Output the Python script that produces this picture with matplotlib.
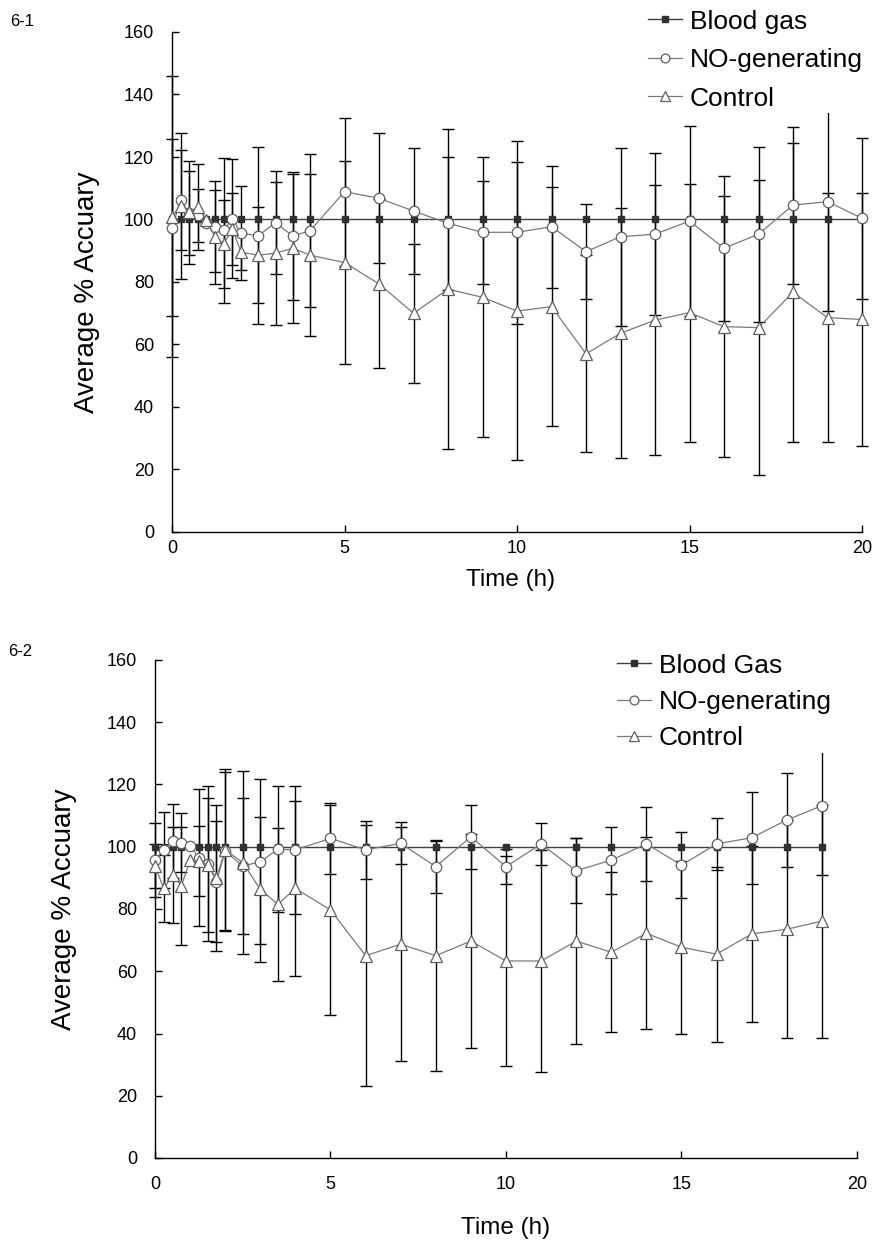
import numpy as np
import matplotlib
matplotlib.use('Agg')
import matplotlib.pyplot as plt

plt.rcParams['font.family'] = ['Liberation Sans', 'DejaVu Sans']

# ---- panel 6-1 ----
time_1 = [0, 0.25, 0.5, 0.75, 1, 1.25, 1.5, 1.75, 2, 2.5, 3, 3.5, 4,
          5, 6, 7, 8, 9, 10, 11, 12, 13, 14, 15, 16, 17, 18, 19, 20]
blood_1 = [100, 100, 100, 100, 100, 100, 100, 100, 100, 100, 100, 100, 100,
           100, 100, 100, 100, 100, 100, 100, 100, 100, 100, 100, 100, 100, 100, 100, 100]
no_1 = [97.4, 106.2, 102.0, 101.4, 99.0, 97.7, 96.6, 100.3, 95.6, 94.8, 99.0, 94.7, 96.4,
        108.9, 106.8, 102.7, 98.8, 95.9, 95.9, 97.7, 89.7, 94.5, 95.3, 99.5, 90.8, 95.3, 104.6, 105.7, 100.4]
no_sd_1 = [28.4, 16.0, 13.5, 8.5, np.nan, 14.6, 23.2, 19.1, 15.0, 28.3, 16.5, 20.4, 24.4,
           23.7, 20.8, 20.3, 21.3, 16.5, 29.2, 19.5, 15.2, 28.5, 25.9, 30.5, 23.2, 28.0, 25.1, 34.9, 25.8]
ctrl_1 = [100.9, 104.3, 102.3, 103.9, 99.8, 94.3, 92.2, 97.0, 89.5, 88.6, 89.2, 90.8, 88.6,
          86.2, 79.4, 70.0, 77.7, 75.1, 70.7, 72.1, 57.0, 63.6, 67.8, 70.2, 65.7, 65.4, 76.7, 68.6, 68.0]
ctrl_sd_1 = [45.0, 23.3, 16.5, 13.8, np.nan, 15.0, 14.0, 11.6, 5.7, 15.3, 22.9, 23.8, 25.9,
             32.4, 27.0, 22.2, 51.2, 44.8, 47.7, 38.2, 31.5, 40.0, 43.2, 41.3, 41.8, 47.2, 47.8, 39.8, 40.4]

# ---- panel 6-2 ----
time_2 = [0, 0.25, 0.5, 0.75, 1, 1.25, 1.5, 1.75, 2, 2.5, 3, 3.5, 4,
          5, 6, 7, 8, 9, 10, 11, 12, 13, 14, 15, 16, 17, 18, 19]
blood_2 = [100, 100, 100, 100, 100, 100, 100, 100, 100, 100, 100, 100, 100,
           100, 100, 100, 100, 100, 100, 100, 100, 100, 100, 100, 100, 100, 100, 100]
no_2 = [95.7, 99.0, 101.8, 101.3, 100.3, 96.5, 94.6, 88.8, 98.6, 93.8, 95.2, 99.2, 99.0,
        102.7, 99.0, 101.1, 93.6, 103.2, 93.6, 100.9, 92.3, 95.7, 100.9, 94.1, 100.9, 102.9, 108.6, 113.2]
no_sd_2 = [12.0, 12.3, 11.8, 9.4, np.nan, 21.9, 24.9, 19.5, 25.5, 21.8, 26.6, 20.3, 20.5,
           11.4, 9.4, 6.7, 8.6, 10.2, 5.6, 6.8, 10.4, 10.8, 11.8, 10.7, 8.4, 14.8, 15.0, 22.3]
ctrl_2 = [93.8, 86.6, 90.9, 87.4, 95.7, 95.4, 94.1, 89.9, 99.0, 94.9, 86.3, 81.5, 86.6,
          79.7, 65.0, 68.7, 65.0, 69.7, 63.3, 63.3, 69.7, 66.1, 72.2, 67.7, 65.5, 72.0, 73.5, 76.1]
ctrl_sd_2 = [7.2, 10.7, 15.3, 19.0, np.nan, 11.3, 21.6, 23.5, 26.0, 29.4, 23.4, 24.6, 28.2,
             33.7, 42.0, 37.5, 37.0, 34.3, 33.6, 35.8, 33.2, 25.7, 30.8, 27.7, 28.1, 28.2, 35.0, 37.4]

W, H = 879.0, 1245.0


def draw_panel(ax, t, bg, no, no_sd, ctrl, ctrl_sd, bg_label):
    t = np.array(t)
    for y, sd in ((np.array(no), np.array(no_sd)), (np.array(ctrl), np.array(ctrl_sd))):
        ok = np.isfinite(sd)
        ax.errorbar(t[ok], y[ok], yerr=sd[ok], fmt='none', ecolor='black',
                    elinewidth=1.0, capsize=4.5, capthick=1.0, zorder=2, clip_on=False)
    ax.plot(t, bg, color='#404040', lw=1.0, marker='s', ms=4.5,
            mfc='#303030', mec='#303030', label=bg_label, zorder=3, clip_on=False)
    ax.plot(t, no, color='#7a7a7a', lw=0.9, marker='o', ms=7.5,
            mfc='white', mec='#606060', mew=0.9, label='NO-generating', zorder=4, clip_on=False)
    ax.plot(t, ctrl, color='#7a7a7a', lw=0.9, marker='^', ms=9,
            mfc='white', mec='#606060', mew=0.9, label='Control', zorder=4, clip_on=False)

    ax.set_xlim(0, 20)
    ax.set_ylim(0, 160)
    ax.set_xticks([0, 5, 10, 15, 20])
    ax.set_yticks(np.arange(0, 161, 20))
    for s in ('top', 'right'):
        ax.spines[s].set_visible(False)
    for s in ('left', 'bottom'):
        ax.spines[s].set_linewidth(1.0)
    ax.tick_params(direction='in', length=5, width=1.0, labelsize=13)
    ax.tick_params(axis='y', pad=13)
    ax.set_ylabel('Average % Accuary', fontsize=20)
    ax.set_xlabel('Time (h)', fontsize=17.5)


fig = plt.figure(figsize=(W / 100, H / 100), dpi=100)

ax1 = fig.add_axes([172 / W, 1 - 532 / H, 690 / W, 500 / H])
draw_panel(ax1, time_1, blood_1, no_1, no_sd_1, ctrl_1, ctrl_sd_1, 'Blood gas')
ax1.tick_params(axis='x', pad=6)
ax1.yaxis.set_label_coords(-0.105, 0.48)
ax1.xaxis.set_label_coords(0.49, -0.074)
ax1.legend(loc='upper left', bbox_to_anchor=(645 / W, 1 - 7 / H), bbox_transform=fig.transFigure,
           fontsize=19, frameon=True, framealpha=1, facecolor='white', edgecolor='none',
           fancybox=False, handlelength=1.3, handletextpad=0.3, labelspacing=0.55,
           borderpad=0.1, borderaxespad=0, markerscale=0.85)

ax2 = fig.add_axes([155 / W, 1 - 1158 / H, 702 / W, 498 / H])
draw_panel(ax2, time_2, blood_2, no_2, no_sd_2, ctrl_2, ctrl_sd_2, 'Blood Gas')
ax2.tick_params(axis='x', pad=13)
ax2.yaxis.set_label_coords(-0.111, 0.5)
ax2.xaxis.set_label_coords(0.5, -0.118)
ax2.legend(loc='upper left', bbox_to_anchor=(614 / W, 1 - 651 / H), bbox_transform=fig.transFigure,
           fontsize=19, frameon=True, framealpha=1, facecolor='white', edgecolor='none',
           fancybox=False, handlelength=1.3, handletextpad=0.3, labelspacing=0.47,
           borderpad=0.1, borderaxespad=0, markerscale=0.85)

fig.text(10 / W, 1 - 22 / H, '6-1', fontsize=12, va='center', ha='left')
fig.text(8 / W, 1 - 652 / H, '6-2', fontsize=12, va='center', ha='left')

fig.savefig('out.png', dpi=100)
